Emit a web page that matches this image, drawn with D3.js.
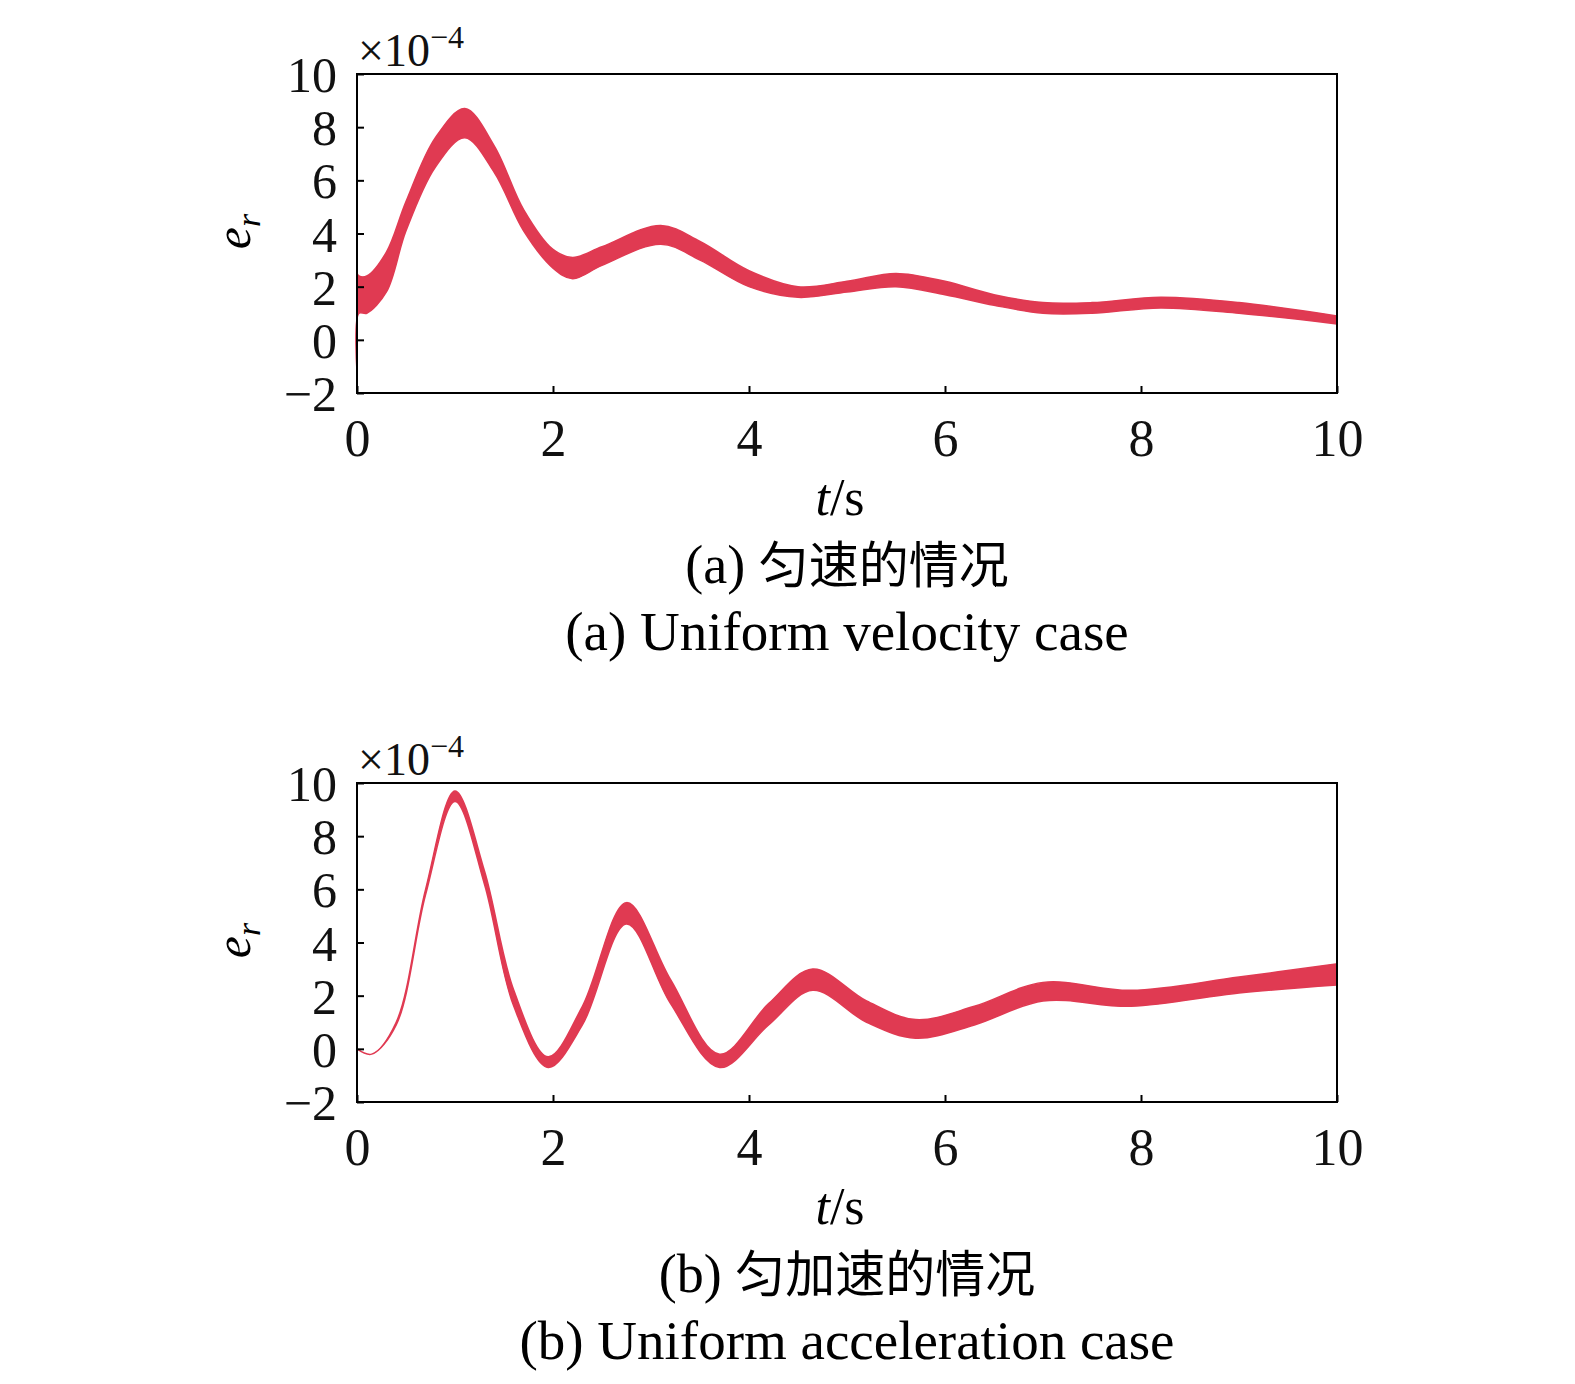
<!DOCTYPE html><html><head><meta charset="utf-8">
<script src="https://cdn.jsdelivr.net/npm/d3@7"></script>
<style>body{margin:0;background:#fff}text{font-family:"Liberation Serif","Times New Roman",serif}</style>
</head><body><svg id="c" width="1575" height="1384"></svg>
<script>
const xTicks=[0,2,4,6,8,10];
const yTicks=[-2,0,2,4,6,8,10];
// panel (a): time, upper, lower (×10^-4)
const tA=[0,0.02,0.1,0.3,0.5,0.8,1.1,1.4,1.7,2.0,2.2,2.5,3.1,3.5,4.0,4.5,5.0,5.5,6.0,6.5,7.0,7.5,8.2,9.0,10];
const upA=[2.5,2.4,2.4,3.3,5.2,7.6,8.7,7.3,4.9,3.4,3.1,3.5,4.3,3.7,2.6,2.0,2.2,2.5,2.2,1.7,1.4,1.4,1.6,1.4,0.9];
const loA=[-1.2,1.0,1.0,1.8,4.1,6.5,7.6,6.3,4.1,2.7,2.3,2.8,3.6,3.0,2.0,1.6,1.8,2.0,1.7,1.3,1.0,1.0,1.2,1.0,0.6];
// panel (b)
const tB=[0,0.15,0.4,0.7,1.0,1.3,1.6,1.95,2.3,2.75,3.2,3.7,4.2,4.65,5.2,5.7,6.3,7.0,7.9,9.0,10];
const upB=[0,-0.2,1.0,6.0,9.7,6.7,2.2,-0.3,1.6,5.5,2.6,-0.2,1.7,3.0,1.8,1.1,1.6,2.5,2.2,2.7,3.2];
const loB=[0,-0.2,0.9,5.8,9.3,6.2,1.6,-0.7,0.9,4.7,1.7,-0.7,0.9,2.2,1.0,0.4,0.9,1.8,1.6,2.1,2.4];
const svg=d3.select("#c");
function panel(top,bottom,t,up,lo,cn,en){
  const x=d3.scaleLinear().domain([0,10]).range([357,1337]);
  const y=d3.scaleLinear().domain([-2,10]).range([bottom,top]);
  const g=svg.append("g");
  const area=d3.area().curve(d3.curveCatmullRom.alpha(0.5)).x((d,i)=>x(t[i])).y0((d,i)=>y(lo[i])).y1((d,i)=>y(up[i]));
  g.append("path").attr("d",area(t)).attr("fill","#e03a52").attr("stroke","#e03a52").attr("stroke-width",1.5);
  g.append("rect").attr("x",357).attr("y",top).attr("width",980).attr("height",bottom-top).attr("fill","none").attr("stroke","#000").attr("stroke-width",2);
  const ax=g.append("g").attr("transform",`translate(0,${bottom})`).call(d3.axisBottom(x).tickValues(xTicks).tickSize(-7).tickFormat(d3.format("d")));
  ax.select(".domain").remove();
  ax.selectAll("line").attr("stroke-width",2);
  ax.selectAll("text").attr("font-size",52).attr("y",14).attr("dy","0.95em").attr("fill","#111");
  const ay=g.append("g").attr("transform","translate(357,0)").call(d3.axisLeft(y).tickValues(yTicks).tickSize(-7).tickFormat(d=>d<0?"\u2212"+(-d):d));
  ay.select(".domain").remove();
  ay.selectAll("line").attr("stroke-width",2);
  ay.selectAll("text").attr("font-size",50).attr("x",-20).attr("dy","0.35em").attr("fill","#111");
  g.append("text").attr("x",358).attr("y",top-8).attr("font-size",46).attr("fill","#111").html('×10<tspan dy="-18" font-size="32">−4</tspan>');
  g.append("text").attr("transform",`translate(250,${(top+bottom)/2-2}) rotate(-90)`).attr("text-anchor","middle").attr("font-size",50).attr("font-style","italic").html('e<tspan font-size="34" dy="10">r</tspan>');
  g.append("text").attr("x",840).attr("y",bottom+122).attr("text-anchor","middle").attr("font-size",52).html('<tspan font-style="italic">t</tspan>/s');
  g.append("text").attr("x",847).attr("y",bottom+190).attr("text-anchor","middle").attr("font-size",54).html(cn);
  g.append("text").attr("x",847).attr("y",bottom+257).attr("text-anchor","middle").attr("font-size",55).text(en);
}
panel(74,393,tA,upA,loA,'(a) <tspan font-family="Noto Sans CJK SC" font-size="50">匀速的情况</tspan>',"(a) Uniform velocity case");
panel(783,1102,tB,upB,loB,'(b) <tspan font-family="Noto Sans CJK SC" font-size="50">匀加速的情况</tspan>',"(b) Uniform acceleration case");
</script></body></html>
